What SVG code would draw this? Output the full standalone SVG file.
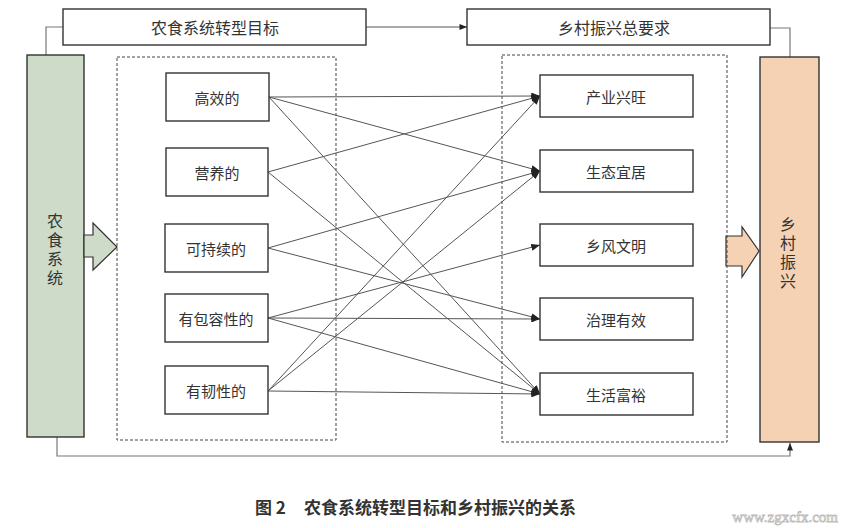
<svg xmlns="http://www.w3.org/2000/svg" width="842" height="528" viewBox="0 0 842 528">
<defs>
<style>
text{font-family:"Noto Sans CJK SC","Liberation Serif",serif;fill:#333;}
.box{fill:#fff;stroke:#333;stroke-width:1.4;}
.lbl{font-size:15px;text-anchor:middle;dominant-baseline:central;}
.top{font-size:16px;text-anchor:middle;dominant-baseline:central;}
.vt{font-size:16px;writing-mode:vertical-rl;letter-spacing:3px;}
.dash{fill:none;stroke:#444;stroke-width:1;stroke-dasharray:3,2;}
.c{fill:none;stroke:#555;stroke-width:1;marker-end:url(#a);}
.p{fill:none;stroke:#777;stroke-width:1.2;}
</style>
<marker id="a" viewBox="0 0 10 8" refX="10" refY="4" markerWidth="9" markerHeight="7" orient="auto" markerUnits="userSpaceOnUse"><path d="M0,0 L10,4 L0,8 z" fill="#222"/></marker>
<marker id="s" viewBox="0 0 10 8" refX="10" refY="4" markerWidth="8" markerHeight="6" orient="auto" markerUnits="userSpaceOnUse"><path d="M0,0 L10,4 L0,8 z" fill="#222"/></marker>
</defs>
<rect width="842" height="528" fill="#fff"/>

<g id="frame-connectors">
<polyline class="p" points="63,27 46,27 46,55"/>
<polyline class="p" points="770,28 790,28 790,57"/>
<line x1="366" y1="27" x2="467" y2="27" stroke="#555" stroke-width="1" marker-end="url(#s)"/>
<polyline points="57,437 57,456 790,456 790,443" fill="none" stroke="#777" stroke-width="1.2" marker-end="url(#s)"/>
</g>

<g id="goal-title"><rect class="box" x="63" y="9" width="303" height="36"/><text class="top" x="215" y="27">农食系统转型目标</text></g>
<g id="req-title"><rect class="box" x="467" y="9" width="303" height="36"/><text class="top" x="614" y="27">乡村振兴总要求</text></g>

<g id="food-system">
<rect x="27" y="55" width="57" height="382" fill="#cddbc8" stroke="#333" stroke-width="1.4"/>
<text class="vt" x="55" y="213">农食系统</text>
<polygon points="84,235 93,235 93,223 117,247 93,270 93,257 84,257" fill="#cddbc8" stroke="#333" stroke-width="1.2"/>
</g>

<g id="rural-revival">
<rect x="760" y="57" width="59" height="385" fill="#f5d2b3" stroke="#333" stroke-width="1.4"/>
<text class="vt" x="788" y="216">乡村振兴</text>
<polygon points="726,236 742,236 742,227 759,251 742,277 742,266 726,266" fill="#f5d2b3" stroke="#333" stroke-width="1.2"/>
</g>

<g id="goals-group"><rect class="dash" x="117" y="57" width="219" height="383"/></g>
<g id="reqs-group"><rect class="dash" x="502" y="55" width="225" height="387"/></g>

<g id="connectors">
<line class="c" x1="269" y1="97" x2="540" y2="96"/>
<line class="c" x1="269" y1="97" x2="540" y2="171"/>
<line class="c" x1="269" y1="97" x2="540" y2="394"/>
<line class="c" x1="268" y1="172" x2="540" y2="96"/>
<line class="c" x1="268" y1="172" x2="540" y2="394"/>
<line class="c" x1="268" y1="248" x2="540" y2="171"/>
<line class="c" x1="268" y1="248" x2="540" y2="319"/>
<line class="c" x1="268" y1="318" x2="540" y2="245"/>
<line class="c" x1="268" y1="318" x2="540" y2="319"/>
<line class="c" x1="268" y1="318" x2="540" y2="394"/>
<line class="c" x1="268" y1="391" x2="540" y2="96"/>
<line class="c" x1="268" y1="391" x2="540" y2="171"/>
<line class="c" x1="268" y1="391" x2="540" y2="394"/>
</g>

<g id="n-efficient"><rect class="box" x="166" y="73" width="103" height="48"/><text class="lbl" x="217" y="97">高效的</text></g>
<g id="n-nutritious"><rect class="box" x="166" y="148" width="102" height="48"/><text class="lbl" x="217" y="172">营养的</text></g>
<g id="n-sustainable"><rect class="box" x="165" y="224" width="103" height="48"/><text class="lbl" x="216" y="248">可持续的</text></g>
<g id="n-inclusive"><rect class="box" x="165" y="294" width="103" height="48"/><text class="lbl" x="216" y="318">有包容性的</text></g>
<g id="n-resilient"><rect class="box" x="165" y="366" width="103" height="48"/><text class="lbl" x="216" y="390">有韧性的</text></g>

<g id="n-industry"><rect class="box" x="540" y="75" width="153" height="42"/><text class="lbl" x="616" y="96">产业兴旺</text></g>
<g id="n-ecology"><rect class="box" x="540" y="150" width="153" height="42"/><text class="lbl" x="616" y="171">生态宜居</text></g>
<g id="n-civility"><rect class="box" x="540" y="224" width="153" height="42"/><text class="lbl" x="616" y="245">乡风文明</text></g>
<g id="n-governance"><rect class="box" x="540" y="298" width="153" height="42"/><text class="lbl" x="616" y="319">治理有效</text></g>
<g id="n-prosperity"><rect class="box" x="540" y="373" width="153" height="42"/><text class="lbl" x="616" y="394">生活富裕</text></g>

<g id="caption">
<text x="255" y="514" font-size="17" font-weight="bold" fill="#222">图 2</text>
<text x="304" y="514" font-size="17" font-weight="bold" fill="#222">农食系统转型目标和乡村振兴的关系</text>
</g>
<text x="838" y="522" font-size="15" text-anchor="end" style="font-family:'Liberation Serif',serif;fill:#fff;stroke:#bbb;stroke-width:0.8">www.zgxcfx.com</text>
</svg>
